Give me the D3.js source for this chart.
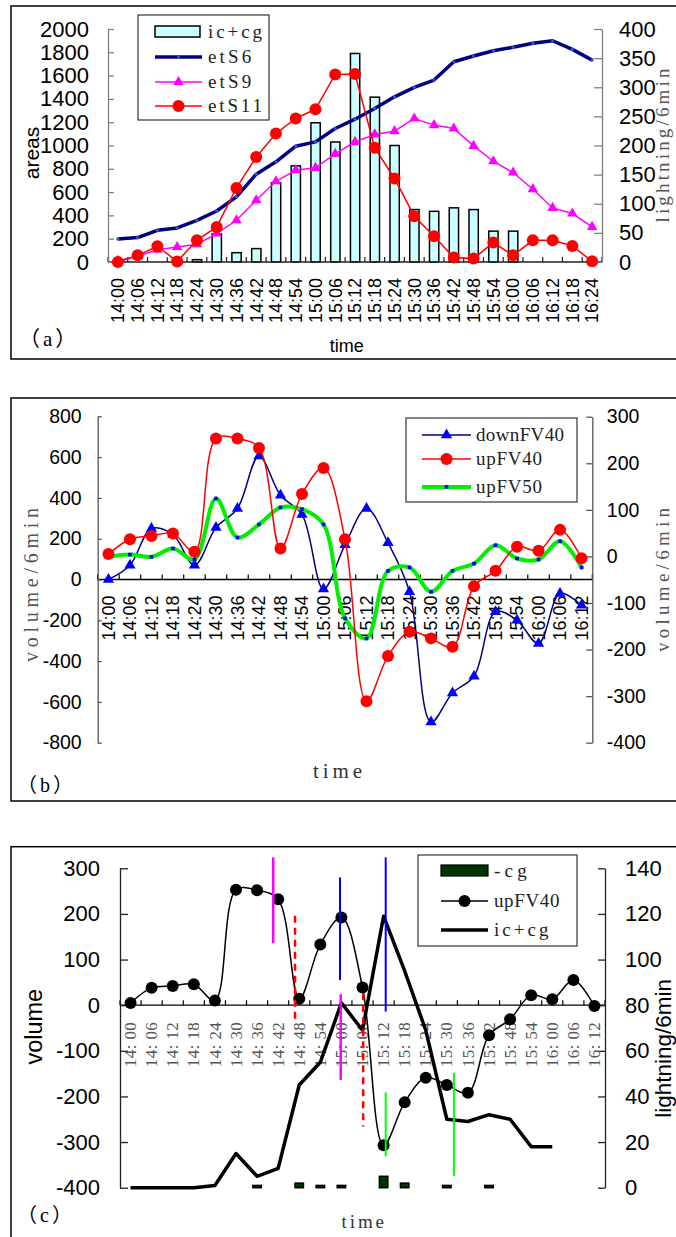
<!DOCTYPE html>
<html><head><meta charset="utf-8">
<script src="https://cdn.jsdelivr.net/npm/d3@7"></script>
<style>body{margin:0;background:#fff}svg{display:block}</style>
</head><body>
<script>
// ---------- DATA ----------
const timesA = ["14:00","14:06","14:12","14:18","14:24","14:30","14:36","14:42","14:48","14:54","15:00","15:06","15:12","15:18","15:24","15:30","15:36","15:42","15:48","15:54","16:00","16:06","16:12","16:18","16:24"];
const icCgA = [0,0,0,0,4,48,16,23,136,165,239,206,358,283,200,90,87,93,90,53,53,0,0,0,0];
const etS6  = [198,210,272,292,358,438,559,754,860,994,1031,1146,1226,1318,1418,1499,1562,1719,1768,1813,1843,1877,1899,1825,1733];
const etS9  = [10,50,105,129,152,244,358,530,693,788,808,928,1031,1095,1123,1232,1175,1146,997,865,768,625,464,416,301];
const etS11 = [0,57,135,5,186,301,636,902,1103,1232,1312,1610,1613,980,717,393,221,38,29,167,57,186,186,138,6];
const ticksA_left  = [0,200,400,600,800,1000,1200,1400,1600,1800,2000];
const ticksA_right = [0,50,100,150,200,250,300,350,400];

const timesB = ["14:00","14:06","14:12","14:18","14:24","14:30","14:36","14:42","14:48","14:54","15:00","15:06","15:12","15:18","15:24","15:30","15:36","15:42","15:48","15:54","16:00","16:06","16:12"];
const downFV40 = [0,70,250,220,70,255,348,605,413,319,-47,170,348,180,-60,-698,-556,-474,-158,-200,-314,-69,-126];
const upFV40B  = [5,37,44,49,10,253,253,233,17,134,190,37,-311,-214,-162,-176,-194,-64,-31,21,12,57,-4];
const upFV50   = [111,122,111,152,98,397,206,270,353,345,270,-190,-289,42,59,-60,42,78,168,103,98,188,59];
const ticksB_left  = [-800,-600,-400,-200,0,200,400,600,800];
const ticksB_right = [-400,-300,-200,-100,0,100,200,300];

const timesC = ["14: 00","14: 06","14: 12","14: 18","14: 24","14: 30","14: 36","14: 42","14: 48","14: 54","15: 00","15: 06","15: 12","15: 18","15: 24","15: 30","15: 36","15: 42","15: 48","15: 54","16: 00","16: 06","16: 12"];
const upFV40C = [5,38,42,46,10,253,252,232,14,133,192,39,-307,-213,-159,-175,-192,-66,-31,22,13,55,-2];
const icCgC   = [0,0,0,0,1,15,5,8.5,45,55,81,69,119,95,69,30,29,32,30,18,18,null,null];
const cgNeg   = [0,0,0,0,0,0,1,0,2,1,1,0,5,2,0,1,0,1,0,0,0,0,0];
const ticksC_left  = [-400,-300,-200,-100,0,100,200,300];
const ticksC_right = [0,20,40,60,80,100,120,140];
// annotation marks in panel (c): minutes after 14:00, and volume range
const annMinutes = [40.6,46.8,59.6,59.8,66.2,72.6,72.6,92];
const annTop     = [324,196,280,24,26,324,-191,-148];
const annBottom  = [136,-40,55,-164,-266,-14,-331,-374];
const annKind    = ["m","r","b","m","r","b","g","g"];

// ---------- SETUP ----------
const SANS = "'Liberation Sans', Arial, sans-serif";
const SERIF = "'Liberation Serif', 'Times New Roman', serif";
const svg = d3.select("body").append("svg").attr("width",676).attr("height",1237);
const fmt = d => String(d);

function frame(x,y,w,h){
  svg.append("rect").attr("x",x).attr("y",y).attr("width",w).attr("height",h)
    .attr("fill","none").attr("stroke","#000").attr("stroke-width",1.5);
}
function monoText(g,x,y,str,size,charW,fill,anchor,rot){
  const t = g.append("text").attr("font-family",SERIF).attr("font-size",size)
    .attr("fill",fill||"#000").attr("textLength",str.length*charW).attr("lengthAdjust","spacing")
    .attr("text-anchor",anchor||"start").text(str);
  if(rot) t.attr("transform",`translate(${x},${y}) rotate(-90)`);
  else t.attr("x",x).attr("y",y);
  return t;
}
function sansRot(g,x,y,str,size){
  g.append("text").attr("transform",`translate(${x},${y}) rotate(-90)`).attr("text-anchor","middle")
   .attr("font-family",SANS).attr("font-size",size).attr("fill","#000").text(str);
}
function yAxis(g,x,scale,ticks,side,tickLen,pad,size,color){
  const ax = (side==="left"?d3.axisLeft(scale):d3.axisRight(scale))
    .tickValues(ticks).tickFormat(fmt).tickSize(-tickLen).tickSizeOuter(0).tickPadding(pad);
  const a = g.append("g").attr("transform",`translate(${x},0)`).call(ax)
    .attr("font-family",SANS).attr("font-size",size);
  a.select(".domain").attr("stroke",color).attr("stroke-width",1.3);
  a.selectAll(".tick line").attr("stroke",color).attr("stroke-width",1.3);
  a.selectAll(".tick text").attr("fill","#000");
}
function xAxis(g,scale,y,color){
  const [x0,x1] = scale.range();
  g.append("line").attr("x1",x0).attr("x2",x1).attr("y1",y).attr("y2",y).attr("stroke",color).attr("stroke-width",1.3);
  const b = scale.domain().map(d=>scale(d)).concat([x1]);
  g.selectAll(".xt").data(b).join("line").attr("class","xt")
    .attr("x1",d=>d).attr("x2",d=>d).attr("y1",y).attr("y2",y-5).attr("stroke",color).attr("stroke-width",1.2);
}
function paren(g,x,y,letter,size){
  const t = g.append("text").attr("x",x).attr("y",y).attr("font-size",size).attr("fill","#000");
  t.append("tspan").attr("font-family","'Noto Sans CJK SC'").text("（");
  t.append("tspan").attr("font-family",SERIF).attr("dx",3).text(letter);
  t.append("tspan").attr("font-family","'Noto Sans CJK SC'").attr("dx",3).text("）");
}
const tri = d3.symbol().type(d3.symbolTriangle);

// ================= PANEL A =================
{
  frame(11,6,720,353);
  const g = svg.append("g");
  const xA = d3.scaleBand().domain(timesA).range([108,602]);
  const yA = d3.scaleLinear().domain([0,2000]).range([262,29]);
  const yA2 = d3.scaleLinear().domain([0,400]).range([262,29]);
  const bw = xA.bandwidth();
  const cx = (d,i)=>xA(timesA[i])+bw/2;

  // bars
  const barData = icCgA.map((v,i)=>({t:timesA[i],v})).filter(d=>d.v>0);
  g.selectAll(".bar").data(barData).join("rect")
    .attr("x",d=>xA(d.t)+bw*0.27).attr("width",bw*0.47)
    .attr("y",d=>yA2(d.v)).attr("height",d=>yA2(0)-yA2(d.v))
    .attr("fill","#ccffff").attr("stroke","#000").attr("stroke-width",1.5);

  xAxis(g,xA,262,"#222");
  yAxis(g,108,yA,ticksA_left,"left",6,19,22,"#808080");
  yAxis(g,602,yA2,ticksA_right,"right",8,17,22,"#808080");

  // x labels
  g.selectAll(".xl").data(timesA).join("text")
    .attr("transform",(d,i)=>`translate(${cx(d,i)},278) rotate(-90)`)
    .attr("text-anchor","end").attr("dy","0.35em")
    .attr("font-family",SANS).attr("font-size",18).text(d=>d);

  // lines
  const line = d3.line().x((d,i)=>cx(d,i)).y(d=>yA(d));
  g.append("path").attr("d",line(etS6)).attr("fill","none").attr("stroke","#000080").attr("stroke-width",3.5).attr("stroke-linejoin","round");
  g.selectAll(".m6").data(etS6).join("circle").attr("cx",cx).attr("cy",d=>yA(d)).attr("r",1.6).attr("fill","#3355cc");
  g.append("path").attr("d",line(etS9)).attr("fill","none").attr("stroke","#ff00ff").attr("stroke-width",1.5);
  g.selectAll(".m9").data(etS9).join("path").attr("d",tri.size(48)())
    .attr("transform",(d,i)=>`translate(${cx(d,i)},${yA(d)})`).attr("fill","#ff00ff");
  g.append("path").attr("d",line(etS11)).attr("fill","none").attr("stroke","#ff0000").attr("stroke-width",1.5);
  g.selectAll(".m11").data(etS11).join("circle").attr("cx",cx).attr("cy",d=>yA(d)).attr("r",6).attr("fill","#ff0000");

  // titles
  sansRot(g,38.5,153,"areas",21);
  g.append("text").attr("x",346.7).attr("y",352).attr("text-anchor","middle").attr("font-family",SANS).attr("font-size",18).text("time");
  monoText(g,669,145.5,"lightning/6min",19,11,"#555","middle",true);
  paren(g,19,346,"a",21);

  // legend
  const L = g.append("g");
  L.append("rect").attr("x",138).attr("y",15).attr("width",131).attr("height",105).attr("fill","#fff").attr("stroke","#333").attr("stroke-width",1.2);
  L.append("rect").attr("x",155).attr("y",26).attr("width",45).attr("height",11).attr("fill","#ccffff").attr("stroke","#000").attr("stroke-width",1.5);
  L.append("line").attr("x1",155).attr("x2",202).attr("y1",57).attr("y2",57).attr("stroke","#000080").attr("stroke-width",3.5);
  L.append("circle").attr("cx",178.5).attr("cy",57).attr("r",1.6).attr("fill","#3355cc");
  L.append("line").attr("x1",155).attr("x2",202).attr("y1",82).attr("y2",82).attr("stroke","#ff00ff").attr("stroke-width",1.5);
  L.append("path").attr("d",tri.size(48)()).attr("transform","translate(178.5,82)").attr("fill","#ff00ff");
  L.append("line").attr("x1",155).attr("x2",202).attr("y1",106).attr("y2",106).attr("stroke","#ff0000").attr("stroke-width",1.5);
  L.append("circle").attr("cx",178.5).attr("cy",106).attr("r",6).attr("fill","#ff0000");
  [["ic+cg",38],["etS6",63],["etS9",88],["etS11",112]].forEach(([s,y])=>monoText(L,208,y,s,19,10.8,"#222"));
}

// ================= PANEL B =================
{
  frame(11,398,720,403);
  const g = svg.append("g");
  const xB = d3.scaleBand().domain(timesB).range([97.7,592.3]);
  const yB = d3.scaleLinear().domain([-800,800]).range([742.7,416.3]);
  const yB2 = d3.scaleLinear().domain([-400,300]).range([742.7,416.7]);
  const bw = xB.bandwidth();
  const cx = (d,i)=>xB(timesB[i])+bw/2;

  xAxis(g,xB,yB(0),"#000");
  yAxis(g,97.7,yB,ticksB_left,"left",4,16,19.5,"#555");
  yAxis(g,592.3,yB2,ticksB_right,"right",6,14.5,19.5,"#555");

  g.selectAll(".xl").data(timesB).join("text")
    .attr("transform",(d,i)=>`translate(${cx(d,i)},${yB(0)+16}) rotate(-90)`)
    .attr("text-anchor","end").attr("dy","0.35em")
    .attr("font-family",SANS).attr("font-size",18).text(d=>d);

  const curve = d3.curveCatmullRom.alpha(0.5);
  const lineL = d3.line().x((d,i)=>cx(d,i)).y(d=>yB(d)).curve(curve);
  const lineR = d3.line().x((d,i)=>cx(d,i)).y(d=>yB2(d)).curve(curve);

  g.append("path").attr("d",lineL(downFV40)).attr("fill","none").attr("stroke","#000080").attr("stroke-width",1.5);
  g.selectAll(".md").data(downFV40).join("path").attr("d",tri.size(55)())
    .attr("transform",(d,i)=>`translate(${cx(d,i)},${yB(d)})`).attr("fill","#0000ff");
  g.append("path").attr("d",lineL(upFV50)).attr("fill","none").attr("stroke","#00ee00").attr("stroke-width",4).attr("stroke-linecap","round");
  g.selectAll(".m50").data(upFV50).join("rect").attr("x",(d,i)=>cx(d,i)-1.8).attr("y",d=>yB(d)-1.8)
    .attr("width",3.6).attr("height",3.6).attr("fill","#0000ff");
  g.append("path").attr("d",lineR(upFV40B)).attr("fill","none").attr("stroke","#ff0000").attr("stroke-width",1.5);
  g.selectAll(".m40").data(upFV40B).join("circle").attr("cx",cx).attr("cy",d=>yB2(d)).attr("r",6).attr("fill","#ff0000");

  monoText(g,38,585,"volume/6min",20,14,"#555","middle",true);
  monoText(g,669,580,"volume/6min",19,13.1,"#555","middle",true);
  monoText(g,337.5,778,"time",21,12.3,"#333","middle");
  paren(g,17,792,"b",20);

  const L = g.append("g");
  L.append("rect").attr("x",406).attr("y",418).attr("width",171).attr("height",84).attr("fill","#fff").attr("stroke","#333").attr("stroke-width",1.2);
  L.append("line").attr("x1",422).attr("x2",471).attr("y1",435).attr("y2",435).attr("stroke","#000080").attr("stroke-width",1.5);
  L.append("path").attr("d",tri.size(55)()).attr("transform","translate(446.5,435)").attr("fill","#0000ff");
  L.append("line").attr("x1",422).attr("x2",471).attr("y1",459).attr("y2",459).attr("stroke","#ff0000").attr("stroke-width",1.5);
  L.append("circle").attr("cx",446.5).attr("cy",459).attr("r",6).attr("fill","#ff0000");
  L.append("line").attr("x1",422).attr("x2",471).attr("y1",487).attr("y2",487).attr("stroke","#00ee00").attr("stroke-width",4);
  L.append("rect").attr("x",444.7).attr("y",485.2).attr("width",3.6).attr("height",3.6).attr("fill","#0000ff");
  [["downFV40",441],["upFV40",465],["upFV50",493]].forEach(([s,y])=>monoText(L,476,y,s,19,11,"#222"));
}

// ================= PANEL C =================
{
  frame(11,846.7,720,420);
  const g = svg.append("g");
  const xC = d3.scaleBand().domain(timesC).range([120,605]);
  const yC = d3.scaleLinear().domain([-400,300]).range([1187.7,868.3]);
  const yC2 = d3.scaleLinear().domain([0,140]).range([1187.7,868.3]);
  const bw = xC.bandwidth();
  const cx = (d,i)=>xC(timesC[i])+bw/2;
  const xMin = d3.scaleLinear().domain([0,132]).range([cx(0,0),cx(0,22)]);

  // -cg bars
  const cgData = cgNeg.map((v,i)=>({t:timesC[i],v})).filter(d=>d.v>0);
  g.selectAll(".cg").data(cgData).join("rect")
    .attr("x",d=>xC(d.t)+bw*0.3).attr("width",bw*0.4)
    .attr("y",d=>yC2(d.v)).attr("height",d=>yC2(0)-yC2(d.v))
    .attr("fill","#003300").attr("stroke","#000").attr("stroke-width",1.5);

  xAxis(g,xC,yC(0),"#000");
  yAxis(g,120,yC,ticksC_left,"left",8,20,22,"#222");
  yAxis(g,605,yC2,ticksC_right,"right",7,20,22,"#222");

  g.selectAll(".xl").data(timesC).join("text")
    .attr("transform",(d,i)=>`translate(${cx(d,i)},${yC(0)+17}) rotate(-90)`)
    .attr("text-anchor","end").attr("dy","0.33em")
    .attr("font-family",SERIF).attr("font-size",17).attr("fill","#555")
    .attr("textLength",45).attr("lengthAdjust","spacing").text(d=>d);

  const lineS = d3.line().x((d,i)=>cx(d,i)).y(d=>yC(d)).curve(d3.curveCatmullRom.alpha(0.5));
  g.append("path").attr("d",lineS(upFV40C)).attr("fill","none").attr("stroke","#000").attr("stroke-width",1.5);
  g.selectAll(".mu").data(upFV40C).join("circle").attr("cx",cx).attr("cy",d=>yC(d)).attr("r",6).attr("fill","#000");
  const lineI = d3.line().defined(d=>d!=null).x((d,i)=>cx(d,i)).y(d=>yC2(d));
  g.append("path").attr("d",lineI(icCgC)).attr("fill","none").attr("stroke","#000").attr("stroke-width",3.5).attr("stroke-linejoin","round");

  const annColor = {m:"#ff00ff",r:"#ff0000",b:"#0000ff",g:"#00ff00"};
  g.selectAll(".ann").data(annMinutes).join("line")
    .attr("x1",d=>xMin(d)).attr("x2",d=>xMin(d))
    .attr("y1",(d,i)=>yC(annTop[i])).attr("y2",(d,i)=>yC(annBottom[i]))
    .attr("stroke",(d,i)=>annColor[annKind[i]])
    .attr("stroke-width",(d,i)=>annKind[i]==="b"||annKind[i]==="g"?2:2.5)
    .attr("stroke-dasharray",(d,i)=>annKind[i]==="r"?"7,5":null);

  sansRot(g,41.7,1026.7,"volume",23.5);
  sansRot(g,671,1048.3,"lightning/6min",22.5);
  monoText(g,362.8,1228.3,"time",19,10.6,"#333","middle");
  paren(g,17,1222,"c",20);

  const L = g.append("g");
  L.append("rect").attr("x",418).attr("y",855).attr("width",159).attr("height",91).attr("fill","#fff").attr("stroke","#333").attr("stroke-width",1.2);
  L.append("rect").attr("x",441).attr("y",865).attr("width",47).attr("height",11).attr("fill","#003300").attr("stroke","#000").attr("stroke-width",1.2);
  L.append("line").attr("x1",441).attr("x2",488).attr("y1",901).attr("y2",901).attr("stroke","#000").attr("stroke-width",1.5);
  L.append("circle").attr("cx",464.5).attr("cy",901).attr("r",6).attr("fill","#000");
  L.append("line").attr("x1",441).attr("x2",488).attr("y1",930).attr("y2",930).attr("stroke","#000").attr("stroke-width",3.5);
  [["-cg",877],["upFV40",907],["ic+cg",936]].forEach(([s,y])=>monoText(L,494,y,s,19,10.9,"#222"));
}
</script>
</body></html>
